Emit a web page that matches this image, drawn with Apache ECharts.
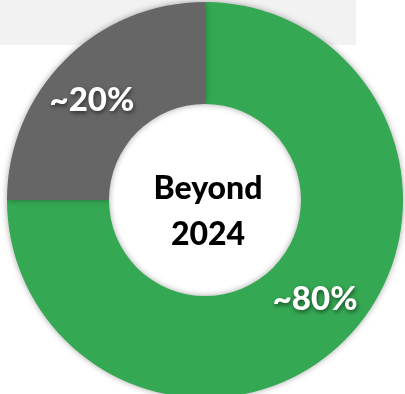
<!DOCTYPE html>
<html><head><meta charset="utf-8">
<script src="https://cdn.jsdelivr.net/npm/echarts@6/dist/echarts.min.js"></script>
<style>html,body{margin:0;padding:0;background:#fff}#c{width:405px;height:394px}</style>
</head><body><div id="c"></div>
<script>
const categories = ['Green', 'Gray'];
const values = [75, 25];
const labels = ['~80%', '~20%'];
const colors = ['#35a853', '#666666'];
const centerText = ['Beyond', '2024'];

const chart = echarts.init(document.getElementById('c'));
chart.setOption({
  animation: false,
  graphic: [
    { type: 'rect', z: -10, shape: { x: 0, y: 0, width: 356, height: 45 }, style: { fill: '#f2f2f2' } },
    { type: 'text', z: 100, left: 208 - 60, top: 212 - 46, style: {
        text: centerText.join('\n'), fill: '#000', font: '900 32px Lato', textAlign: 'center',
        lineHeight: 46, width: 120 } }
  ],
  series: [{
    type: 'pie',
    center: [205, 200],
    radius: [96, 198],
    startAngle: 90,
    clockwise: true,
    silent: true,
    itemStyle: { shadowBlur: 6, shadowColor: 'rgba(0,0,0,0.35)' },
    label: {
      show: true, position: 'inside',
      formatter: p => labels[p.dataIndex],
      color: '#fff', fontFamily: 'Lato', fontWeight: 900, fontSize: 33,
      textShadowColor: 'rgba(0,0,0,0.55)', textShadowBlur: 4, textShadowOffsetX: 1, textShadowOffsetY: 2
    },
    labelLayout: p => p.dataIndex === 0 ? { dx: 4, dy: -7 } : { dx: -7, dy: 6 },
    data: categories.map((c, i) => ({ name: c, value: values[i], itemStyle: { color: colors[i] } }))
  }]
});
</script></body></html>
